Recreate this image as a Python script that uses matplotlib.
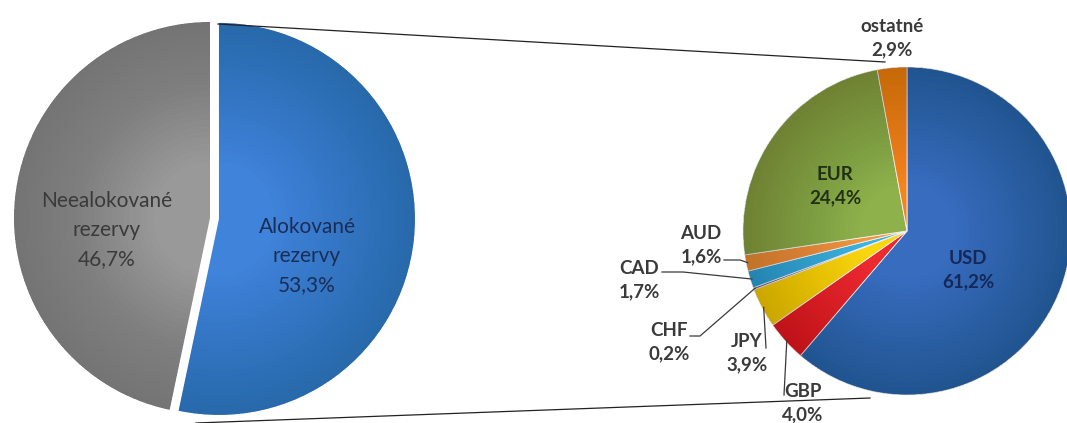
import math
import matplotlib.pyplot as plt
from matplotlib.patches import Wedge

plt.rcParams['font.family'] = ['Lato', 'DejaVu Sans']

# left pie: allocated / non-allocated reserves (%)
main_labels = ["Alokované\nrezervy", "Neealokované\nrezervy"]
main_values = [53.3, 46.7]
main_colors = ["#3f84da", "#999999"]
main_text_colors = ["#1b2d55", "#3a3a3a"]

# right pie: currency structure of allocated reserves (%)
cur_labels = ["USD", "GBP", "JPY", "CHF", "CAD", "AUD", "EUR", "ostatné"]
cur_values = [61.2, 4.0, 3.9, 0.2, 1.7, 1.6, 24.4, 2.9]
cur_colors = ["#386cbf", "#ee2a30", "#fbd60e", "#8064a2", "#3cb3e0",
              "#f09740", "#8fb14b", "#f5841f"]

W, H = 1067, 423


def fmt(v):
    return f"{v:.1f}".replace(".", ",") + "%"


def shade(wedges, n=24, a=0.0065):
    # fake the 3D look: darker towards the rim
    for w in wedges:
        for k in range(n):
            ax.add_patch(Wedge(w.center, w.r, w.theta1, w.theta2,
                               width=w.r * (0.02 + 0.03 * k),
                               color="black", alpha=a, lw=0))


def rim(wedges, i, f=1.0):
    w = wedges[i]
    a = math.radians((w.theta1 + w.theta2) / 2)
    return w.center[0] + f * w.r * math.cos(a), w.center[1] + f * w.r * math.sin(a)


fig = plt.figure(figsize=(W / 100, H / 100), dpi=100)
ax = fig.add_axes([0, 0, 1, 1])

# pixel-ish layout, y measured from the top of the picture
lc, lr = (210, H - 218), 196
rc, rr = (907, H - 231), 164

w_main, _ = ax.pie(main_values, colors=main_colors, startangle=90, counterclock=False,
                   center=lc, radius=lr, explode=[9, 0],
                   wedgeprops=dict(lw=0))
w_cur, _ = ax.pie(cur_values, colors=cur_colors, startangle=90, counterclock=False,
                  center=rc, radius=rr,
                  wedgeprops=dict(lw=0.6, edgecolor="#f4f4f4"))
shade(w_main)
shade(w_cur)

# connector lines between the two pies
ax.plot([218, 885], [H - 24, H - 62], color="#222222", lw=0.9)
ax.plot([196, 870], [H - 423, H - 398], color="#222222", lw=0.9)

# labels of the left pie
main_pos = [(307, 256), (107, 230)]
for lab, v, (x, y), c in zip(main_labels, main_values, main_pos, main_text_colors):
    ax.text(x, H - y, f"{lab}\n{fmt(v)}", ha="center", va="center",
            fontsize=15, color=c, linespacing=1.55)

# labels of the right pie
cur_pos = {"USD": (968, 270), "EUR": (835, 186), "ostatné": (892, 38),
           "AUD": (701, 245), "CAD": (639, 280), "CHF": (669, 342),
           "JPY": (747, 353), "GBP": (803, 403)}
cur_text = {"USD": "#14285a", "EUR": "#223014"}
for lab, v in zip(cur_labels, cur_values):
    x, y = cur_pos[lab]
    ax.text(x, H - y, f"{lab}\n{fmt(v)}", ha="center", va="center",
            fontsize=13.5, fontweight="bold", color=cur_text.get(lab, "#3a3a3a"),
            linespacing=1.4)

# leader lines for the small slices
leaders = {"AUD": [(724, 260), (740, 260)],
           "CAD": [(662, 272), (683, 272)],
           "CHF": [(690, 336), (700, 336)],
           "JPY": [(766, 348)],
           "GBP": [(784, 395)]}
for lab, pts in leaders.items():
    i = cur_labels.index(lab)
    px = [p[0] for p in pts]
    py = [H - p[1] for p in pts]
    ex, ey = rim(w_cur, i, 0.99)
    px.append(ex)
    py.append(ey)
    ax.plot(px, py, color="#3a3a3a", lw=0.9)

ax.set_xlim(0, W)
ax.set_ylim(0, H)
ax.set_aspect("equal")
ax.axis("off")

fig.savefig("out.png", dpi=100)
